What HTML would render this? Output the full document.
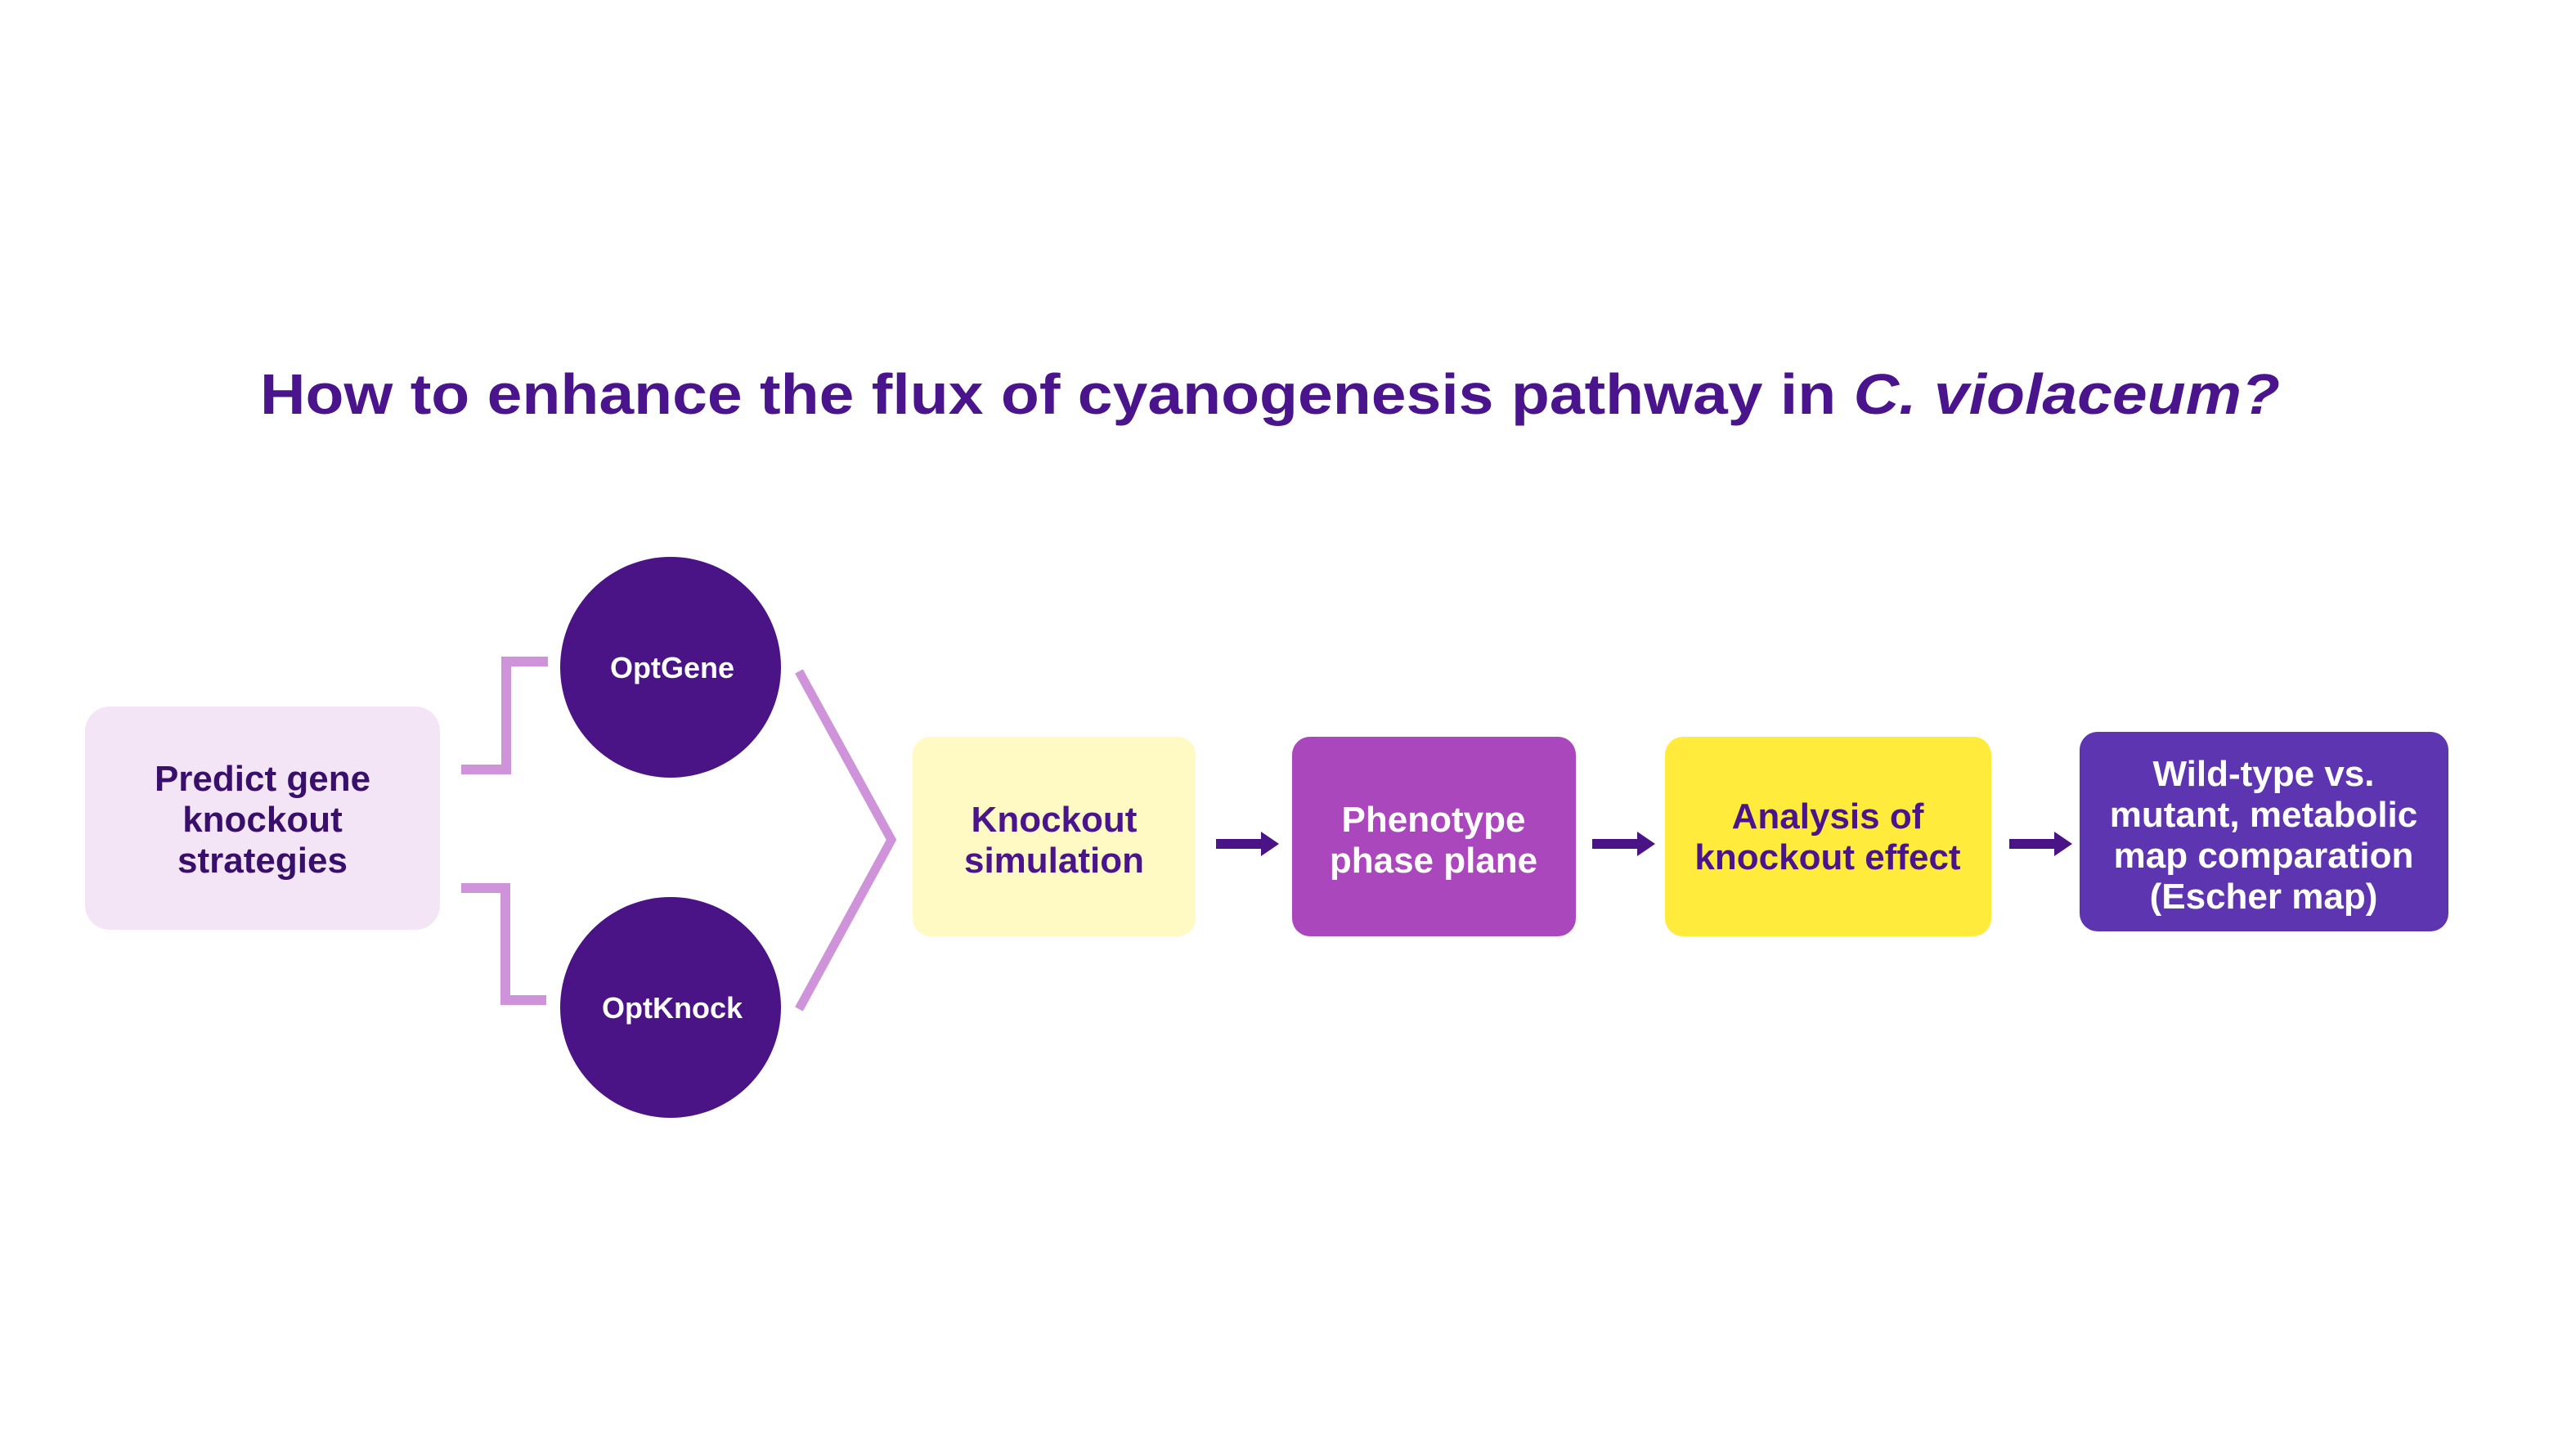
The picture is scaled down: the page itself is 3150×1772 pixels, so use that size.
<!DOCTYPE html>
<html><head><meta charset="utf-8"><style>
html,body{margin:0;padding:0;background:#fff;}
svg{display:block;}
text{font-family:"Liberation Sans",sans-serif;font-weight:bold;}
</style></head><body>
<svg width="3150" height="1772" viewBox="0 0 3150 1772" xmlns="http://www.w3.org/2000/svg">
<rect width="3150" height="1772" fill="#fff"/>
<text x="318" y="506" font-size="70" fill="#4A148C" textLength="2470" lengthAdjust="spacingAndGlyphs">How to enhance the flux of cyanogenesis pathway in <tspan font-style="italic">C. violaceum?</tspan></text>

<rect x="104" y="864" width="434" height="273" rx="30" fill="#F3E5F5"/>
<g font-size="44" fill="#38106B" text-anchor="middle">
<text x="321" y="967">Predict gene</text>
<text x="321" y="1017">knockout</text>
<text x="321" y="1067">strategies</text>
</g>

<g fill="none" stroke="#CE93D8" stroke-width="12">
<polyline points="564,941 619,941 619,809 670,809"/>
<polyline points="564,1086 618,1086 618,1223 668,1223"/>
<polyline points="977,821 1090,1027 977,1234" stroke-width="11"/>
</g>

<circle cx="820" cy="816" r="135" fill="#4A1486"/>
<circle cx="820" cy="1232" r="135" fill="#4A1486"/>
<g font-size="36" fill="#fff" text-anchor="middle">
<text x="822" y="829">OptGene</text>
<text x="822" y="1245">OptKnock</text>
</g>

<rect x="1116" y="901" width="346" height="244" rx="22" fill="#FFF9C4"/>
<rect x="1580" y="901" width="347" height="244" rx="22" fill="#AB47BC"/>
<rect x="2036" y="901" width="399" height="244" rx="22" fill="#FFEB3B"/>
<rect x="2543" y="895" width="451" height="244" rx="22" fill="#5E35B1"/>

<g fill="#4A1486">
<polygon points="1487,1026 1542,1026 1542,1017 1564,1032 1542,1047 1542,1038 1487,1038"/>
<polygon points="1947,1026 2002,1026 2002,1017 2024,1032 2002,1047 2002,1038 1947,1038"/>
<polygon points="2457,1026 2512,1026 2512,1017 2534,1032 2512,1047 2512,1038 2457,1038"/>
</g>

<g font-size="44" text-anchor="middle">
<text x="1289" y="1017" fill="#4A148C">Knockout</text>
<text x="1289" y="1067" fill="#4A148C">simulation</text>
<text x="1753" y="1017" fill="#fff">Phenotype</text>
<text x="1753" y="1067" fill="#fff">phase plane</text>
<text x="2235" y="1013" fill="#4A148C">Analysis of</text>
<text x="2235" y="1063" fill="#4A148C">knockout effect</text>
<text x="2768" y="961" fill="#fff">Wild-type vs.</text>
<text x="2768" y="1011" fill="#fff">mutant, metabolic</text>
<text x="2768" y="1061" fill="#fff">map comparation</text>
<text x="2768" y="1111" fill="#fff">(Escher map)</text>
</g>
</svg>
</body></html>
